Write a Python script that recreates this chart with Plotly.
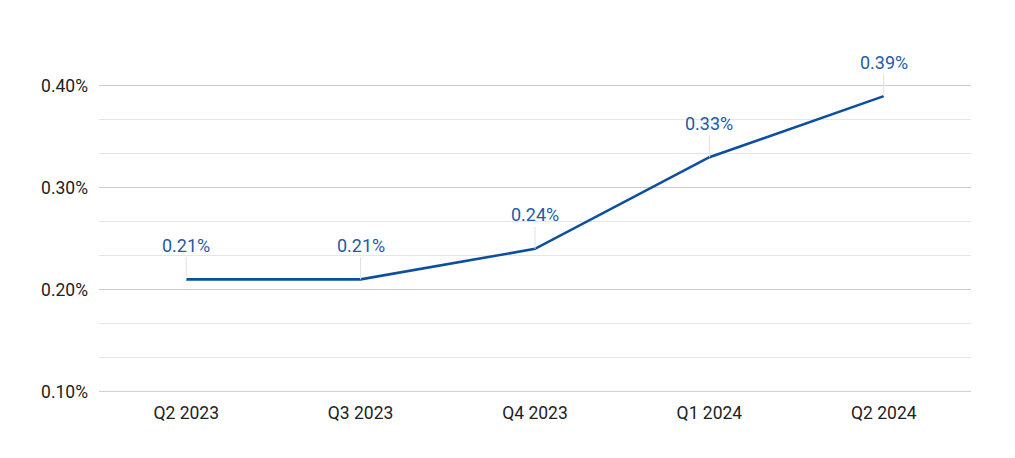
import plotly.graph_objects as go

quarters = ["Q2 2023", "Q3 2023", "Q4 2023", "Q1 2024", "Q2 2024"]
values = [0.0021, 0.0021, 0.0024, 0.0033, 0.0039]
labels = ["0.21%", "0.21%", "0.24%", "0.33%", "0.39%"]

fig = go.Figure()
fig.add_trace(go.Scatter(
    x=quarters, y=values, mode="lines",
    line=dict(color="#0d4f9e", width=2.6),
    hoverinfo="skip",
))

for q, v, t in zip(quarters, values, labels):
    fig.add_annotation(
        x=q, y=v, text=t, showarrow=True, arrowhead=0, arrowwidth=1,
        arrowcolor="#e0e0e0", ax=0, ay=-34, standoff=0,
        font=dict(family="Roboto", size=18, color="#1f5aa6"),
    )

# baseline gridline at the bottom of the range
fig.add_shape(type="line", xref="paper", yref="y", x0=0, x1=1,
              y0=0.001, y1=0.001, line=dict(color="#cccccc", width=1),
              layer="below")

fig.update_layout(
    width=1015, height=458,
    margin=dict(l=91, r=52, t=44, b=74),
    paper_bgcolor="white", plot_bgcolor="white",
    showlegend=False,
    font=dict(family="Roboto", size=18, color="#222222"),
    xaxis=dict(
        range=[-0.5, 4.5], showgrid=False, zeroline=False, showline=False,
        ticks="", ticklabelstandoff=8, tickfont=dict(size=17.5, color="#222222"),
    ),
    yaxis=dict(
        range=[0.000994, 0.0043333], tick0=0.001, dtick=0.001, tickformat=".2%",
        showgrid=True, gridcolor="#cccccc", gridwidth=1, zeroline=False,
        showline=False, ticks="", ticklabelstandoff=10,
        tickfont=dict(size=17.5, color="#222222"),
        minor=dict(tick0=0.001, dtick=0.001/3, showgrid=True,
                   gridcolor="#e6e6e6", gridwidth=1),
    ),
)

fig.write_html("out.html")
